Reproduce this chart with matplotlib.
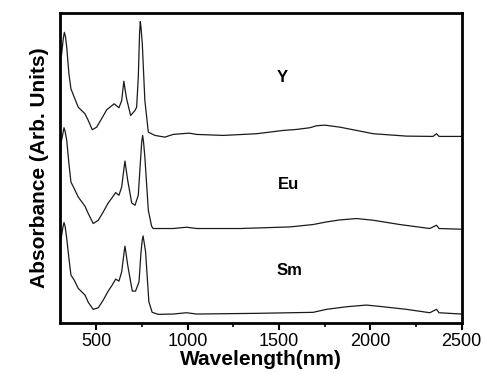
import matplotlib
matplotlib.use("Agg")
import matplotlib.pyplot as plt
from matplotlib.ticker import MultipleLocator

plt.rcParams['font.family'] = ['Liberation Sans', 'DejaVu Sans']

# Wavelength (nm) and stacked absorbance (arb. units)
y_wl = [300, 309, 318, 324, 330, 337, 349, 360, 378, 400, 437, 455, 477, 501, 528, 556, 597, 623,
        638, 646, 650, 655, 665, 687, 711, 720, 729, 736, 740, 744, 751, 765, 784, 820, 875, 920,
        1008, 1049, 1194, 1377, 1523, 1596, 1669, 1706, 1751, 1833, 1925, 2016, 2199, 2344, 2363,
        2377, 2500]
y_abs = [265, 269.7, 285, 291.3, 287, 276.3, 249.7, 234.7, 226.3, 216.3, 209.7, 203, 193.7, 196.3,
         204.7, 213.7, 219.7, 215.7, 223, 236, 242.3, 236, 224.7, 208, 213, 216.3, 246.3, 290, 302,
         296, 279.7, 223, 191.3, 188, 186.3, 189, 190.3, 189, 188, 189.7, 193, 194, 195.7, 197.7,
         198.3, 196.3, 193, 189.7, 187.3, 187, 189.7, 187, 187]

eu_wl = [300, 305, 316, 322, 328, 337, 349, 360, 378, 400, 437, 455, 482, 510, 537, 564, 586, 605,
         623, 638, 652, 656, 660, 671, 693, 711, 729, 740, 748, 753, 758, 765, 784, 802, 811, 920,
         994, 1049, 1286, 1560, 1687, 1760, 1833, 1925, 2016, 2162, 2326, 2363, 2377, 2500]
eu_abs = [158, 179.7, 190, 195.7, 192, 183, 159.7, 141.3, 134.7, 126.3, 117, 109.7, 99.7, 103,
          111.3, 120.3, 125.7, 130.7, 128, 136.3, 157, 162.3, 157, 143, 120.3, 118, 128, 159.7, 182,
          188, 181, 166.3, 113, 97, 94.7, 94.7, 96, 94.7, 94.7, 96.3, 98.7, 101.3, 103.3, 104.7,
          103, 98.7, 94.7, 98, 94.7, 94]

sm_wl = [300, 305, 316, 322, 328, 337, 349, 360, 378, 400, 437, 455, 482, 510, 537, 564, 586, 605,
         623, 638, 652, 656, 661, 671, 696, 714, 733, 744, 750, 755, 760, 769, 787, 805, 838, 920,
         994, 1049, 1377, 1687, 1760, 1870, 1979, 2070, 2199, 2326, 2363, 2377, 2500]
sm_abs = [72, 83, 96, 100.7, 97, 84.7, 64.7, 48, 43, 34.7, 28, 20.7, 13.7, 15.3, 23, 32, 38, 44,
          42, 51.3, 72, 77, 71, 58, 32, 32, 41.3, 71.3, 82, 87.3, 82, 71.3, 21.3, 10.7, 8.7, 9,
          10.3, 9, 9.7, 10.7, 13.7, 16.3, 18, 16.3, 13.7, 10.3, 13.7, 10.3, 9]

series_names = ["Y", "Eu", "Sm"]
label_wl = [1520, 1552, 1559]
label_abs = [245.7, 138.7, 53]

fig = plt.figure(figsize=(4.83, 3.73), dpi=100)
ax = fig.add_axes([0.1242, 0.134, 0.8313, 0.832])

for wl, ab in [(y_wl, y_abs), (eu_wl, eu_abs), (sm_wl, sm_abs)]:
    ax.plot(wl, ab, color='#1a1a1a', lw=0.9, solid_joinstyle='round')

for name, xw, ya in zip(series_names, label_wl, label_abs):
    ax.text(xw, ya, name, ha='center', va='center', fontsize=12, fontweight='bold')

ax.set_xlim(300, 2500)
ax.set_ylim(0, 311)
ax.xaxis.set_major_locator(MultipleLocator(500))
ax.xaxis.set_minor_locator(MultipleLocator(250))
ax.tick_params(axis='x', which='major', direction='out', length=5, width=1.5, labelsize=13, pad=2)
ax.tick_params(axis='x', which='minor', direction='out', length=3, width=1.2)
ax.set_yticks([])
for s in ax.spines.values():
    s.set_linewidth(2)

ax.set_xlabel('Wavelength(nm)', fontsize=15, fontweight='bold', labelpad=0)
ax.set_ylabel('Absorbance (Arb. Units)', fontsize=15, fontweight='bold', labelpad=8)

fig.savefig('out.png', dpi=100)
